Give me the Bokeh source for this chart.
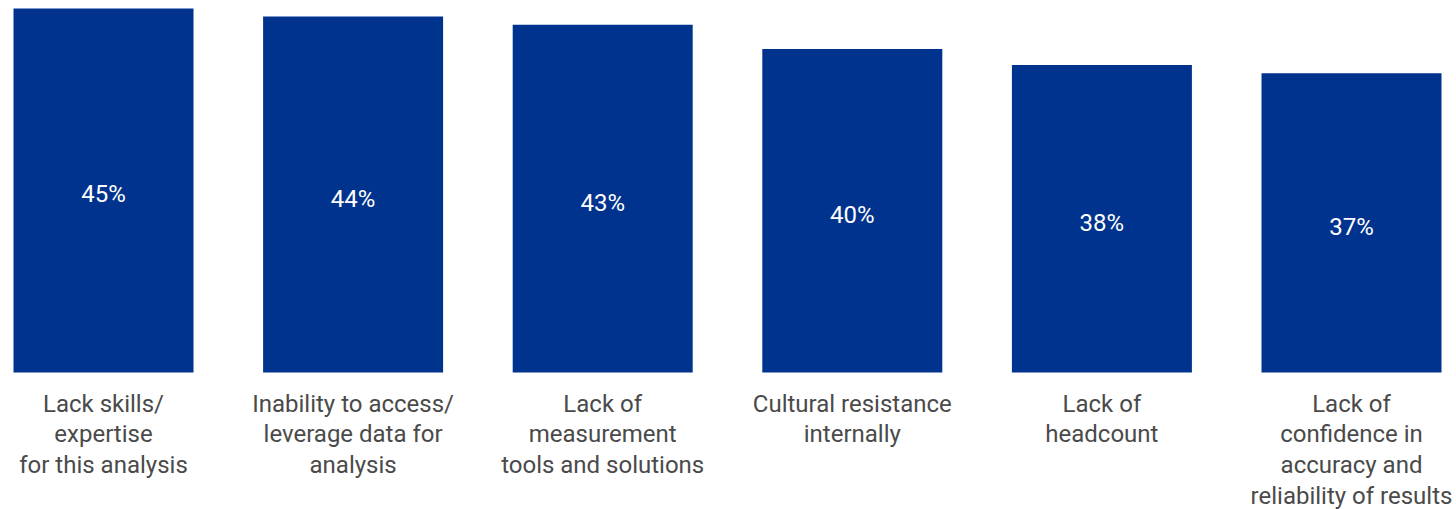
from bokeh.plotting import figure
from bokeh.models import ColumnDataSource, Range1d
from bokeh.core.properties import value
from bokeh.embed import file_html
from bokeh.resources import INLINE

categories = [
    "Lack skills/\nexpertise\nfor this analysis",
    "Inability to access/\nleverage data for\nanalysis",
    "Lack of\nmeasurement\ntools and solutions",
    "Cultural resistance\ninternally",
    "Lack of\nheadcount",
    "Lack of\nconfidence in\naccuracy and\nreliability of results",
]
values = [45, 44, 43, 40, 38, 37]
value_labels = [f"{v}%" for v in values]

x = list(range(len(values)))
src = ColumnDataSource(dict(
    x=x,
    top=values,
    mid=[v / 2 for v in values],
    lab=value_labels,
    cat=categories,
    catY=[0] * len(values),
))

W, H = 1456, 509
unit = 249.6
px_per = 8.09
p = figure(width=W, height=H, output_backend="svg", toolbar_location=None,
           x_range=Range1d(-103 / unit, (W - 103) / unit),
           y_range=Range1d(-(H - 372) / px_per, 372 / px_per),
           min_border=0, outline_line_color=None)
p.axis.visible = False
p.grid.visible = False
p.background_fill_color = "white"
p.border_fill_color = "white"

p.vbar(x="x", top="top", bottom=0, width=180 / unit, source=src,
       fill_color="#00338D", line_color=None)

p.text(x="x", y="mid", text="lab", source=src, text_color="white",
       text_font=value("Roboto"), text_font_size="24px", text_font_style="normal",
       text_align="center", text_baseline="middle", y_offset=4)

p.text(x="x", y="catY", text="cat", source=src, text_color="#4a4a4a",
       text_font=value("Roboto"), text_font_size="24px",
       text_align="center", text_baseline="top", y_offset=17,
       text_line_height=1.1)

open("out.html", "w").write(file_html(p, INLINE))
